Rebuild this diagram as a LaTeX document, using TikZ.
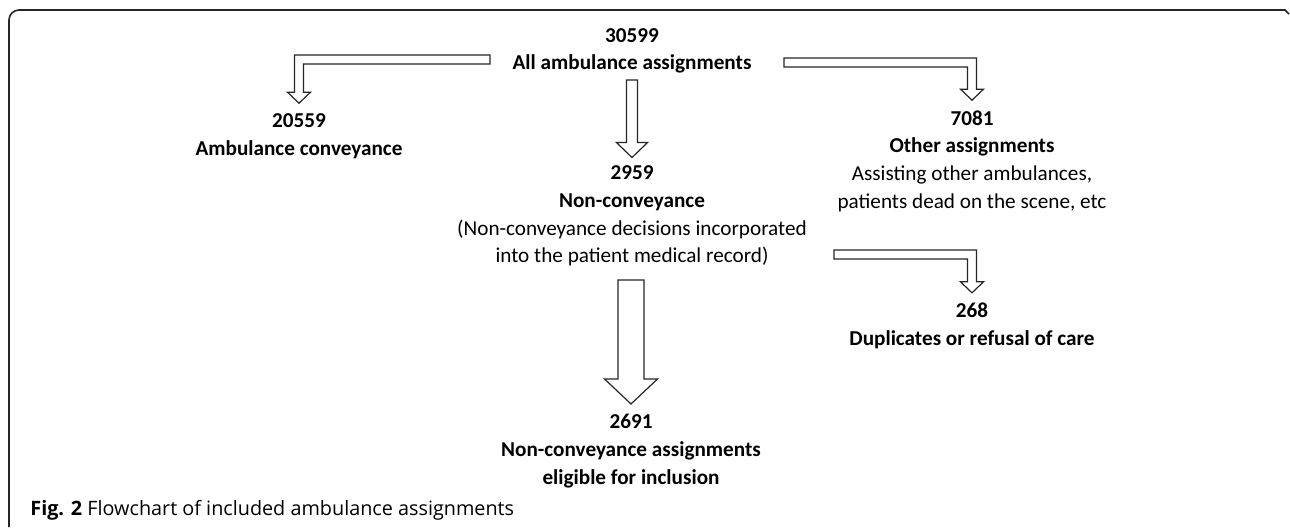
\documentclass[tikz,border=0pt]{standalone}
\usepackage{fontspec}
\setmainfont{Carlito}
\newfontfamily\capfont{Open Sans}
\usetikzlibrary{calc}

\def\px{0.5pt}
\tikzset{
  blockarrow/.style={draw=black!85, line width=0.6pt, fill=white},
  box/.style={align=center, inner sep=1pt, font=\fontsize{10.6}{13.8}\selectfont},
  frame/.style={draw=black!85, line width=0.8pt},
}

% straight block arrow: start, tip, half stem, half head, head length
\newcommand{\downblock}[5]{%
  \draw[blockarrow] let \p1=(#1), \p2=(#2) in
    ({\x2-#3*\px},\y1) -- ({\x2+#3*\px},\y1) -- ({\x2+#3*\px},{\y2+#5*\px})
    -- ({\x2+#4*\px},{\y2+#5*\px}) -- (\p2) -- ({\x2-#4*\px},{\y2+#5*\px})
    -- ({\x2-#3*\px},{\y2+#5*\px}) -- cycle;}

% bent block arrow: bar end, tip, direction (-1 left, 1 right)
\newcommand{\bentblock}[3]{%
  \draw[blockarrow] let \p1=(#1), \p2=(#2) in
    (\x1,{\y1+4.5*\px}) -- ({\x2+#3*4.5*\px},{\y1+4.5*\px})
    -- ({\x2+#3*4.5*\px},{\y2+11*\px}) -- ({\x2+#3*11.5*\px},{\y2+11*\px})
    -- (\p2) -- ({\x2-#3*11.5*\px},{\y2+11*\px}) -- ({\x2-#3*4.5*\px},{\y2+11*\px})
    -- ({\x2-#3*4.5*\px},{\y1-4.5*\px}) -- (\x1,{\y1-4.5*\px}) -- cycle;}

\begin{document}
\begin{tikzpicture}[x=0.5pt,y=-0.5pt]
\useasboundingbox (0,0) rectangle (1290,527);
\draw[frame] (9,527) [rounded corners=5pt] -- (9,10) -- (600,10) [sharp corners] -- (1285,10) -- (1289,14);

\node[box] (tot) at (632,51) {\bfseries 30599\\\bfseries All ambulance assignments};
\node[box] (conv) at (299,136) {\bfseries 20559\\\bfseries Ambulance conveyance};
\node[box] (nc) at (632,216) {\bfseries 2959\\\bfseries Non-conveyance\\(Non-conveyance decisions incorporated\\into the patient medical record)};
\node[box] (oth) at (972,161) {\bfseries 7081\\\bfseries Other assignments\\Assisting other ambulances,\\patients dead on the scene, etc};
\node[box] (dup) at (972,326) {\bfseries 268\\\bfseries Duplicates or refusal of care};
\node[box] (elig) at (631,451) {\bfseries 2691\\\bfseries Non-conveyance assignments\\\bfseries eligible for inclusion};
\node[anchor=west, inner sep=0pt, font=\capfont\fontsize{9.9}{12}\selectfont] (cap) at (30,510) {\textbf{Fig. 2} Flowchart of included ambulance assignments};

\coordinate (ls) at (490,59.5);
\coordinate (rs) at (784,62.5);
\coordinate (ms) at (632,80);
\coordinate (ncs) at (834,254.5);
\coordinate (bs) at (631,280);

\bentblock{ls}{[yshift=4pt]conv.north}{-1}
\bentblock{rs}{[yshift=4pt]oth.north}{1}
\bentblock{ncs}{[yshift=4pt]dup.north}{1}
\downblock{ms}{[yshift=3pt]nc.north}{5.5}{15.5}{15}
\downblock{bs}{[yshift=4pt]elig.north}{13}{26.5}{25}
\end{tikzpicture}
\end{document}
